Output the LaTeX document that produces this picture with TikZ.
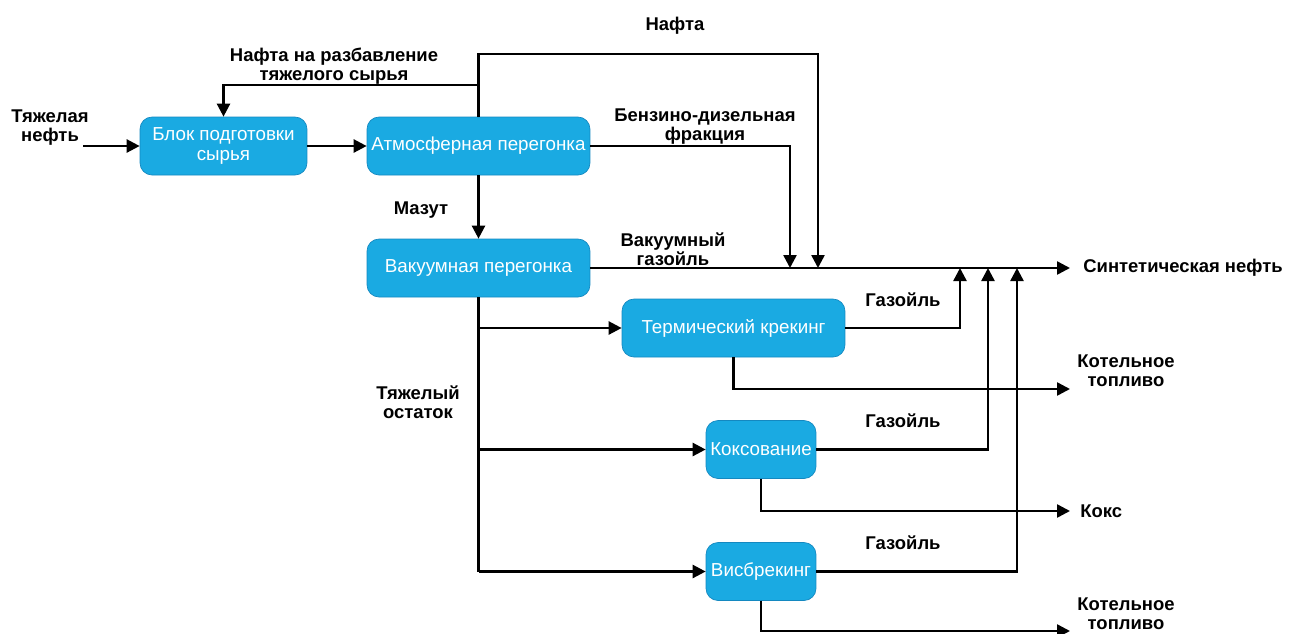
\documentclass[tikz,border=0pt]{standalone}
\usepackage{fontspec}
\usepackage{xcolor}
\usepackage{tikz}
\usetikzlibrary{calc, arrows.meta}
\newfontfamily\flowfont{Liberation Sans}
\definecolor{box}{HTML}{1AAAE2}
\definecolor{rim}{HTML}{1488C0}
\tikzset{
  unit/.style={draw=rim, fill=box, rounded corners=0.24cm, text=white,
    align=center, minimum height=1.16cm, inner sep=1pt,
    font=\flowfont\fontsize{10.7}{11}\selectfont},
  lbl/.style={align=center, inner sep=0pt,
    font=\flowfont\bfseries\fontsize{10.5}{10.8}\selectfont},
  pipe/.style={line width=1.4pt, line join=miter},
  flow/.style={pipe, -{Triangle[length=2.6mm, width=2.6mm]}}
}
\begin{document}
\begin{tikzpicture}[x=0.02cm, y=-0.02cm]
\useasboundingbox (0,0) rectangle (1289,633);

% process units
\node[unit, minimum width=3.34cm] (blok) at (223.5,146) {Блок подготовки\\сырья};
\node[unit, minimum width=4.46cm] (atm) at (478.5,146) {Атмосферная перегонка};
\node[unit, minimum width=4.46cm] (vak) at (478.5,268) {Вакуумная перегонка};
\node[unit, minimum width=4.46cm] (term) at (733.5,328) {Термический крекинг};
\node[unit, minimum width=2.2cm] (koks) at (761,449.5) {Коксование};
\node[unit, minimum width=2.2cm] (visb) at (761,571.5) {Висбрекинг};

% free ends and bends
\coordinate (feed) at (83,146);
\coordinate (top) at (818,54);
\coordinate (dil) at ($(atm.north |- 0,85)$);
\coordinate (nd) at (818,268);
\coordinate (bd) at (790,268);
\coordinate[label={[lbl, anchor=west, xshift=0.26cm]right:Синтетическая нефть}] (syn) at (1070,268);
\coordinate (g1) at (960,268);
\coordinate (g2) at (988,268);
\coordinate (g3) at (1017,268);
\coordinate (fo1) at (1070,389);
\coordinate[label={[lbl, anchor=west, xshift=0.2cm]right:Кокс}] (coke) at (1070,511);
\coordinate (fo2) at (1070,631);

% feed and main train
\draw[flow] (feed) -- (blok);
\draw[flow] (blok) -- (atm);
\draw[flow] (atm) -- (vak);
\draw[flow] (vak.east) -- (syn);

% naphtha, also back to the feed block
\draw[flow] (atm.north) |- (top) -- (nd);
\draw[flow] (dil) -| (blok.north);
\draw[flow] (atm.east) -| (bd);

%heavy residue to the three units
\draw[pipe] (vak.south) -- (vak.south |- visb);
\draw[flow] (vak.south |- term) -- (term.west);
\draw[flow] (vak.south |- koks) -- (koks.west);
\draw[flow] (vak.south |- visb) -- (visb.west);

% gas oils back to the product
\draw[flow] (term.east) -| (g1);
\draw[flow] (koks.east) -| (g2);
\draw[flow] (visb.east) -| (g3);

% by-products
\draw[flow] (term.south) |- (fo1);
\draw[flow] (koks.south) |- (coke);
\draw[flow] (visb.south) |- (fo2);

% stream names
\node[lbl] (tn) at (50,128) {Тяжелая\\нефть};
\node[lbl] (nf) at (675,26) {Нафта};
\node[lbl] (nr) at (334,66) {Нафта на разбавление\\тяжелого сырья};
\node[lbl] (bz) at (705,127) {Бензино-дизельная\\фракция};
\node[lbl] (mz) at (421,210) {Мазут};
\node[lbl] (vg) at (673,249) {Вакуумный\\газойль};
\node[lbl] (to) at (418,402) {Тяжелый\\остаток};
\node[lbl] (ga1) at (903,300) {Газойль};
\node[lbl] (ga2) at (903,421) {Газойль};
\node[lbl] (ga3) at (903,543) {Газойль};
\node[lbl] (kt1) at (1126,371) {Котельное\\топливо};
\node[lbl] (kt2) at (1126,614) {Котельное\\топливо};
\end{tikzpicture}
\end{document}
